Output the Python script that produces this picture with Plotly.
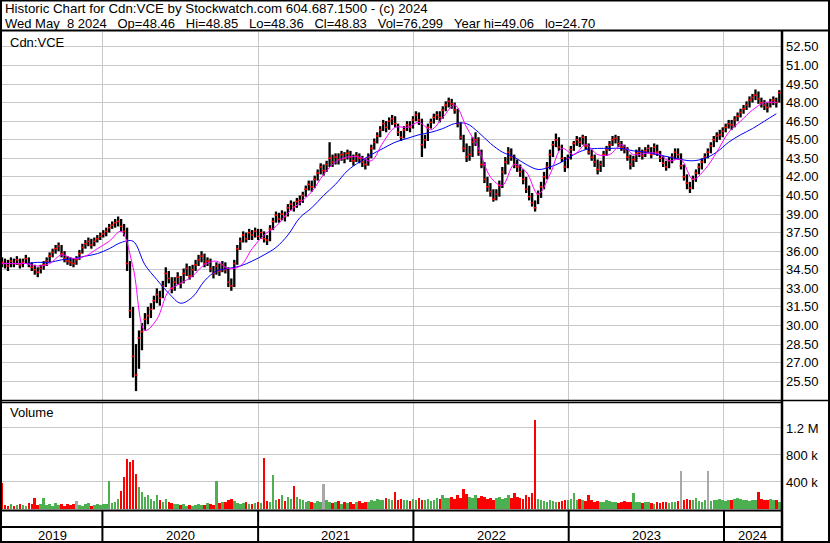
import plotly.graph_objects as go
import pandas as pd

# ---------------- DATA (weekly) ----------------
week_close = [
    35.1, 35.0, 34.8, 35.2, 35.0, 35.3, 34.9, 35.1, 35.4, 35.0,
    34.7, 34.5, 34.3, 34.6, 34.9, 35.2, 35.6, 35.9, 36.2, 36.4,
    35.8, 35.4, 35.2, 35.1, 35.0, 35.3, 35.8, 36.3, 36.6, 36.8,
    36.5, 36.8, 37.0, 37.2, 37.4, 37.6, 37.9, 38.1, 38.3, 38.4,
    38.0, 37.6, 35.0, 31.2, 27.5, 26.0, 29.0, 29.5, 30.5, 30.8,
    31.3, 32.0, 32.5, 32.2, 33.2, 34.2, 33.8, 33.0, 33.5, 33.9,
    33.4, 34.2, 34.6, 34.0, 34.5, 34.9, 35.3, 35.6, 35.0, 35.2,
    34.6, 34.2, 34.8, 34.4, 34.9, 34.5, 33.5, 33.2, 35.0, 36.2,
    36.8, 37.3, 37.0, 37.5, 37.3, 37.6, 37.2, 37.5, 37.0, 36.9,
    37.8, 38.4, 38.9, 38.6, 39.0, 38.8, 39.5, 39.8, 39.6, 40.0,
    40.1, 40.5, 41.0, 41.4, 41.2, 41.8, 42.3, 42.8, 42.5, 43.0,
    43.5, 43.2, 43.6, 43.4, 43.8, 43.5, 43.9, 43.6, 43.3, 43.7,
    43.5, 43.2, 43.0, 43.6, 44.3, 44.8, 45.3, 45.8, 46.3, 46.0,
    46.5, 46.7, 46.3, 45.6, 45.2, 45.8, 46.2, 46.0, 46.6, 47.0,
    46.6, 44.6, 45.0, 46.0, 46.4, 46.8, 47.0, 46.8, 47.4, 47.8,
    48.1, 47.9, 47.4, 46.3, 45.2, 44.3, 43.6, 43.8, 44.8, 45.0,
    44.0, 43.0, 41.8, 41.2, 40.8, 40.2, 40.6, 41.3, 42.4, 43.2,
    44.0, 43.6, 43.0, 42.8, 42.4, 41.8, 41.0, 40.4, 39.9, 39.5,
    40.6, 41.2, 42.0, 42.8, 43.8, 44.6, 45.0, 44.4, 43.5, 42.8,
    43.5, 44.2, 44.7, 45.0, 44.8, 45.2, 44.5, 44.0, 43.6, 43.2,
    42.6, 43.0, 43.8, 44.2, 44.6, 45.0, 45.1, 44.7, 44.4, 44.2,
    43.6, 43.0, 43.4, 43.9, 44.0, 43.7, 44.1, 44.3, 43.8, 44.4,
    44.0, 43.5, 43.1, 42.8, 43.3, 43.6, 44.0, 43.8, 42.9, 42.0,
    41.5, 41.1, 41.8, 42.3, 42.8, 43.2, 43.6, 44.0, 44.5, 45.0,
    45.3, 45.4, 45.7, 46.0, 46.3, 46.2, 46.6, 46.9, 47.2, 47.5,
    47.8, 48.2, 48.4, 48.6, 48.3, 48.0, 47.8, 47.6, 48.0, 48.2, 48.0, 48.8,
]

week_high = [
    35.5, 35.4, 35.3, 35.5, 35.4, 35.6, 35.4, 35.4, 35.7, 35.5,
    35.1, 34.9, 34.7, 34.9, 35.2, 35.5, 35.9, 36.2, 36.5, 36.7,
    36.5, 36.0, 35.6, 35.5, 35.4, 35.6, 36.1, 36.6, 36.9, 37.1,
    37.0, 37.1, 37.3, 37.5, 37.7, 37.9, 38.2, 38.4, 38.6, 38.8,
    38.6, 38.2, 37.9, 35.2, 31.5, 28.5, 29.6, 30.2, 31.0, 31.5,
    31.8, 32.4, 33.0, 32.8, 33.6, 34.7, 34.4, 33.9, 33.9, 34.3,
    34.0, 34.6, 35.0, 34.8, 34.9, 35.3, 35.7, 36.0, 35.8, 35.5,
    35.4, 34.8, 35.1, 35.0, 35.2, 35.1, 34.7, 33.8, 35.3, 36.5,
    37.1, 37.6, 37.5, 37.8, 37.7, 37.9, 37.8, 37.8, 37.6, 37.3,
    38.1, 38.7, 39.2, 39.1, 39.3, 39.2, 39.8, 40.1, 40.0, 40.3,
    40.5, 40.8, 41.3, 41.7, 41.7, 42.1, 42.6, 43.1, 43.0, 43.3,
    44.8, 43.8, 43.9, 43.9, 44.1, 44.0, 44.2, 44.1, 43.8, 44.0,
    43.9, 43.7, 43.5, 43.9, 44.6, 45.1, 45.6, 46.1, 46.6, 46.5,
    46.8, 47.0, 46.9, 46.3, 45.7, 46.1, 46.5, 46.5, 46.9, 47.3,
    47.2, 46.7, 45.4, 46.3, 46.7, 47.1, 47.3, 47.3, 47.7, 48.1,
    48.4, 48.3, 48.0, 47.5, 46.4, 45.4, 44.7, 44.5, 45.2, 45.6,
    45.2, 44.2, 43.2, 42.0, 41.5, 41.0, 41.0, 41.7, 42.8, 43.6,
    44.4, 44.3, 43.8, 43.4, 43.0, 42.6, 42.0, 41.3, 40.7, 40.1,
    40.9, 41.6, 42.4, 43.2, 44.2, 44.9, 45.5, 45.2, 44.6, 43.6,
    43.8, 44.5, 44.9, 45.3, 45.2, 45.4, 45.3, 44.7, 44.2, 43.8,
    43.4, 43.3, 44.1, 44.5, 44.9, 45.3, 45.4, 45.3, 44.9, 44.6,
    44.4, 43.8, 43.7, 44.2, 44.4, 44.2, 44.4, 44.6, 44.4, 44.7,
    44.6, 44.1, 43.7, 43.3, 43.6, 43.9, 44.3, 44.3, 43.9, 43.0,
    42.2, 41.6, 42.1, 42.6, 43.1, 43.5, 43.9, 44.3, 44.8, 45.3,
    45.6, 45.8, 46.0, 46.3, 46.6, 46.6, 46.9, 47.2, 47.5, 47.8,
    48.1, 48.5, 48.7, 49.06, 48.9, 48.4, 48.2, 48.0, 48.3, 48.5, 48.4, 49.0,
]

week_low = [
    34.7, 34.6, 34.4, 34.7, 34.7, 34.9, 34.6, 34.7, 35.0, 34.7,
    34.4, 34.1, 33.9, 34.2, 34.5, 34.8, 35.1, 35.5, 35.8, 36.0,
    35.5, 35.1, 34.9, 34.8, 34.7, 34.9, 35.3, 35.8, 36.2, 36.4,
    36.2, 36.4, 36.7, 36.9, 37.1, 37.2, 37.5, 37.8, 37.9, 38.0,
    37.6, 37.2, 34.4, 30.6, 25.8, 24.7, 26.5, 28.0, 29.6, 30.1,
    30.6, 31.3, 31.8, 31.6, 32.2, 33.1, 33.4, 32.6, 32.8, 33.3,
    33.0, 33.4, 34.0, 33.7, 33.9, 34.4, 34.8, 35.1, 34.7, 34.8,
    34.3, 33.8, 34.1, 34.0, 34.3, 34.2, 33.1, 32.8, 33.1, 34.9,
    36.1, 36.7, 36.7, 36.9, 36.9, 37.1, 36.9, 37.0, 36.7, 36.5,
    36.8, 37.7, 38.3, 38.3, 38.5, 38.4, 38.8, 39.3, 39.2, 39.5,
    39.7, 39.9, 40.4, 40.9, 40.8, 41.1, 41.7, 42.2, 42.1, 42.4,
    42.8, 42.8, 43.0, 43.0, 43.3, 43.1, 43.4, 43.2, 42.9, 43.2,
    43.1, 42.8, 42.6, 42.9, 43.5, 44.2, 44.7, 45.2, 45.7, 45.6,
    45.8, 46.2, 46.0, 45.3, 44.9, 45.1, 45.7, 45.6, 45.9, 46.5,
    46.2, 43.6, 44.3, 44.9, 45.9, 46.3, 46.6, 46.4, 46.7, 47.3,
    47.6, 47.5, 47.1, 46.0, 45.0, 44.0, 43.2, 43.3, 43.6, 44.5,
    43.7, 42.7, 41.5, 40.8, 40.4, 40.0, 40.1, 40.4, 41.1, 42.2,
    43.0, 43.3, 42.7, 42.4, 42.0, 41.4, 40.7, 40.1, 39.6, 39.2,
    39.8, 40.3, 41.0, 41.8, 42.6, 43.6, 44.4, 44.1, 43.2, 42.4,
    42.7, 43.4, 44.1, 44.5, 44.4, 44.6, 44.2, 43.8, 43.3, 42.8,
    42.2, 42.4, 42.8, 43.7, 44.1, 44.5, 44.7, 44.4, 44.1, 43.9,
    43.3, 42.6, 42.8, 43.2, 43.6, 43.4, 43.6, 43.9, 43.5, 43.8,
    43.7, 43.2, 42.8, 42.5, 42.7, 43.1, 43.4, 43.4, 42.6, 41.7,
    41.0, 40.7, 41.0, 41.6, 42.2, 42.6, 43.1, 43.5, 43.9, 44.4,
    44.8, 45.0, 45.2, 45.6, 45.9, 45.8, 46.0, 46.5, 46.8, 47.1,
    47.4, 47.6, 48.0, 48.2, 47.9, 47.6, 47.4, 47.2, 47.6, 47.8, 47.6, 48.0,
]

# daily-scale volume (thousands of shares), one representative value per week
week_volume_k = [
    380, 60, 50, 70, 40, 60, 80, 55, 45, 90, 70, 170, 60, 80, 160, 60, 70, 50, 90, 60,
    70, 50, 80, 60, 70, 120, 60, 50, 70, 90, 50, 60, 80, 60,
    70, 80, 415, 90, 110, 150, 260, 480, 740, 700, 720, 520, 330, 250, 180, 200,
    150, 120, 200, 130, 110, 150, 100, 90, 80, 70, 60, 70, 50, 60, 50, 60, 70, 55, 60, 90,
    80, 60, 415, 90, 100, 110, 140, 150, 120, 90,
    80, 90, 100, 70, 80, 90, 100, 90, 750, 120, 100, 500, 130, 150, 200, 120, 180, 150, 340, 180,
    150, 130, 110, 120, 100, 90, 120, 100, 370, 130, 110, 90, 100, 120, 80, 100, 90, 110, 80, 100,
    120, 90, 110, 100, 130, 120, 150, 140, 130, 160, 150, 130, 250, 140,
    150, 130, 140, 120, 150, 130, 160, 140, 130, 150, 120, 140, 160, 150, 200, 170, 160, 180, 150, 200,
    170, 300, 220, 180, 160, 200, 170, 190, 180, 150, 160, 140, 170, 180,
    150, 170, 200, 160, 230, 180, 170, 150, 200, 180, 230, 1320, 150, 140, 120, 110, 130, 120, 100, 110,
    120, 140, 130, 150, 230, 140, 150, 130, 120, 200, 130, 110,
    120, 110, 100, 130, 120, 100, 110, 90, 100, 120, 110, 100, 230, 110, 100, 90, 100, 110, 90, 80,
    100, 90, 110, 100, 90, 100, 110, 120, 570, 130,
    150, 140, 130, 160, 120, 110, 130, 560, 120, 140, 130, 150, 140, 120, 130, 140, 150, 160, 150, 130,
    140, 120, 130, 130, 245, 150, 140, 130, 150, 140, 130, 110,
]

# moving averages, one value every 4 weeks
ma_short = [
    35.0, 35.0, 35.0, 34.8, 35.0, 35.7, 35.4, 35.6, 36.2, 36.8,
    37.6, 34.7, 29.6, 30.5, 32.8, 33.4, 34.0, 34.9, 35.2, 34.6,
    34.8, 36.2, 37.3, 38.0, 39.1, 39.9, 40.8, 42.2, 43.2, 43.6,
    43.6, 43.3, 44.8, 46.0, 46.0, 46.4, 45.8, 46.8, 47.8, 46.0,
    44.3, 42.0, 41.3, 43.0, 42.4, 40.6, 42.2, 44.3, 43.8, 44.6,
    43.8, 43.8, 44.6, 43.8, 43.9, 43.9, 43.3, 43.4, 41.8, 42.6,
    44.0, 45.6, 46.5, 47.4, 48.0, 48.0,
]
ma_long = [
    35.0, 35.0, 35.0, 35.1, 35.1, 35.3, 35.4, 35.6, 35.8, 36.2,
    36.7, 36.8, 34.9, 33.7, 32.6, 31.8, 32.3, 33.6, 34.4, 34.6,
    34.8, 35.2, 35.7, 36.3, 37.3, 38.7, 39.5, 40.5, 41.4, 42.5,
    43.2, 43.8, 44.3, 44.8, 45.1, 45.4, 45.6, 45.9, 46.3, 46.3,
    45.6, 44.7, 44.0, 43.6, 43.0, 42.6, 42.8, 43.2, 43.8, 44.2,
    44.3, 44.3, 44.3, 44.1, 44.0, 43.8, 43.6, 43.4, 43.3, 43.5,
    44.0, 44.8, 45.4, 45.9, 46.5, 47.1,
]

price_ticks = [25.5, 27.0, 28.5, 30.0, 31.5, 33.0, 34.5, 36.0, 37.5, 39.0,
               40.5, 42.0, 43.5, 45.0, 46.5, 48.0, 49.5, 51.0, 52.5]
volume_ticks = [400000, 800000, 1200000]
volume_tick_labels = ["400 k", "800 k", "1.2 M"]
year_labels = ["2019", "2020", "2021", "2022", "2023", "2024"]

title_line1 = "Historic Chart for Cdn:VCE by Stockwatch.com 604.687.1500 - (c) 2024"
title_line2_parts = ["Wed May  8 2024", "Op=48.46", "Hi=48.85", "Lo=48.36", "Cl=48.83",
                     "Vol=76,299", "Year hi=49.06", "lo=24.70"]

# ---------------- FIGURE ----------------
W, H = 830, 543
FONT = "Liberation Sans, Arial, sans-serif"

dates = pd.date_range("2019-05-10", periods=len(week_close), freq="7D")
ma_dates = dates[::4][:len(ma_short)]
x_range = ["2019-05-10", "2024-05-14"]
year_starts = [pd.Timestamp(f"{y}-01-01") for y in range(2020, 2025)]


def px(xp):
    return xp / W


def py(yp):
    return 1 - yp / H


fig = go.Figure()

# high-low bars
bx, by = [], []
for d, lo, hi in zip(dates, week_low, week_high):
    bx += [d, d, None]
    by += [lo, hi, None]
fig.add_trace(go.Scatter(x=bx, y=by, mode="lines", line=dict(color="black", width=2.3),
                         xaxis="x", yaxis="y", hoverinfo="skip"))
# close ticks
fig.add_trace(go.Scatter(x=dates, y=week_close, mode="markers",
                         marker=dict(symbol="line-ew", size=2, line=dict(color="#ff0000", width=1.5)),
                         xaxis="x", yaxis="y"))
# moving averages
fig.add_trace(go.Scatter(x=ma_dates, y=ma_long, mode="lines", line=dict(color="#0000ff", width=1, shape="spline"),
                         xaxis="x", yaxis="y"))
fig.add_trace(go.Scatter(x=ma_dates, y=ma_short, mode="lines", line=dict(color="#ff00ff", width=1, shape="spline"),
                         xaxis="x", yaxis="y"))

# volume bars
GREY_WEEKS = {25, 108, 228, 237}
vol_colors = []
for i, c in enumerate(week_close):
    if i in GREY_WEEKS:
        vol_colors.append("#a8a8a8")
    elif i > 0 and c >= week_close[i - 1]:
        vol_colors.append("#4caf50")
    else:
        vol_colors.append("#ff0000")
fig.add_trace(go.Bar(x=dates, y=[v * 1000 for v in week_volume_k], marker=dict(color=vol_colors, line=dict(width=0)),
                     width=6 * 24 * 3600 * 1000, xaxis="x2", yaxis="y2"))

grid = "#c8c8c8"
fig.update_layout(
    width=W, height=H,
    margin=dict(l=0, r=0, t=0, b=0),
    paper_bgcolor="white", plot_bgcolor="white",
    showlegend=False,
    bargap=0,
    font=dict(family=FONT, size=13, color="black"),
    xaxis=dict(domain=[px(2), px(781)], range=x_range, anchor="y", type="date",
               tickvals=year_starts, showticklabels=False, showgrid=True, gridcolor=grid,
               gridwidth=1, zeroline=False, ticks="", showline=False),
    xaxis2=dict(domain=[px(2), px(781)], range=x_range, anchor="y2", type="date", matches="x",
                tickvals=year_starts, showticklabels=False, showgrid=True, gridcolor=grid,
                gridwidth=1, zeroline=False, ticks="", showline=False),
    yaxis=dict(domain=[py(401), py(32)], range=[23.9, 53.7], side="right", anchor="x",
               tickvals=price_ticks, ticktext=[f"{v:.2f}" for v in price_ticks],
               showgrid=True, gridcolor=grid, gridwidth=1, zeroline=False, ticks="",
               ticklabelstandoff=4, tickfont=dict(family=FONT, size=13, color="black")),
    yaxis2=dict(domain=[py(510), py(403)], range=[-15000, 1570000], side="right", anchor="x2",
                tickvals=volume_ticks, ticktext=volume_tick_labels,
                showgrid=True, gridcolor=grid, gridwidth=1, zeroline=False, ticks="",
                ticklabelstandoff=4, tickfont=dict(family=FONT, size=13, color="black")),
)

shapes = []


def hline(y, x0=0, x1=W, w=2):
    shapes.append(dict(type="line", xref="paper", yref="paper", x0=px(x0), x1=px(x1),
                       y0=py(y), y1=py(y), line=dict(color="black", width=w)))


def vline(x, y0, y1, w=2):
    shapes.append(dict(type="line", xref="paper", yref="paper", x0=px(x), x1=px(x),
                       y0=py(y0), y1=py(y1), line=dict(color="black", width=w)))


# outer frame
shapes.append(dict(type="rect", xref="paper", yref="paper", x0=px(1), x1=px(829), y0=py(542), y1=py(0.5),
                   line=dict(color="black", width=2)))
hline(30.5)
vline(782, 30.5, 542, 2.5)
hline(400.5, 0, W, 1.5)
hline(402.5, 0, 782, 1.5)
hline(510.5, 0, 782, 2)
hline(527, 0, 782, 2)
for ys in year_starts:
    shapes.append(dict(type="line", xref="x", yref="paper", x0=ys, x1=ys, y0=py(542), y1=py(510.5),
                       line=dict(color="black", width=2)))
fig.update_layout(shapes=shapes)

nb = "\u00a0"
line2 = (nb * 3).join(p.replace(" ", nb) for p in title_line2_parts)
ann = [
    dict(text=title_line1.replace(" ", nb), x=px(3), y=py(9), size=13.3),
    dict(text=line2, x=px(3), y=py(23), size=13),
    dict(text="Cdn:VCE", x=px(8), y=py(42), size=13),
    dict(text="Volume", x=px(8), y=py(413), size=13),
]
annotations = [dict(text=a["text"], x=a["x"], y=a["y"], xref="paper", yref="paper", xanchor="left",
                    yanchor="middle", showarrow=False,
                    font=dict(family=FONT, size=a["size"], color="black")) for a in ann]
year_bounds = [pd.Timestamp(x_range[0])] + year_starts + [pd.Timestamp(x_range[1])]
for lab, a, b in zip(year_labels, year_bounds[:-1], year_bounds[1:]):
    annotations.append(dict(text=lab, x=a + (b - a) / 2, y=py(535), xref="x", yref="paper",
                            xanchor="center", yanchor="middle", showarrow=False,
                            font=dict(family=FONT, size=13, color="black")))
fig.update_layout(annotations=annotations)

fig.write_html("out.html", config={"displayModeBar": False},
               post_script="document.body.style.margin='0';document.body.style.padding='0';")
